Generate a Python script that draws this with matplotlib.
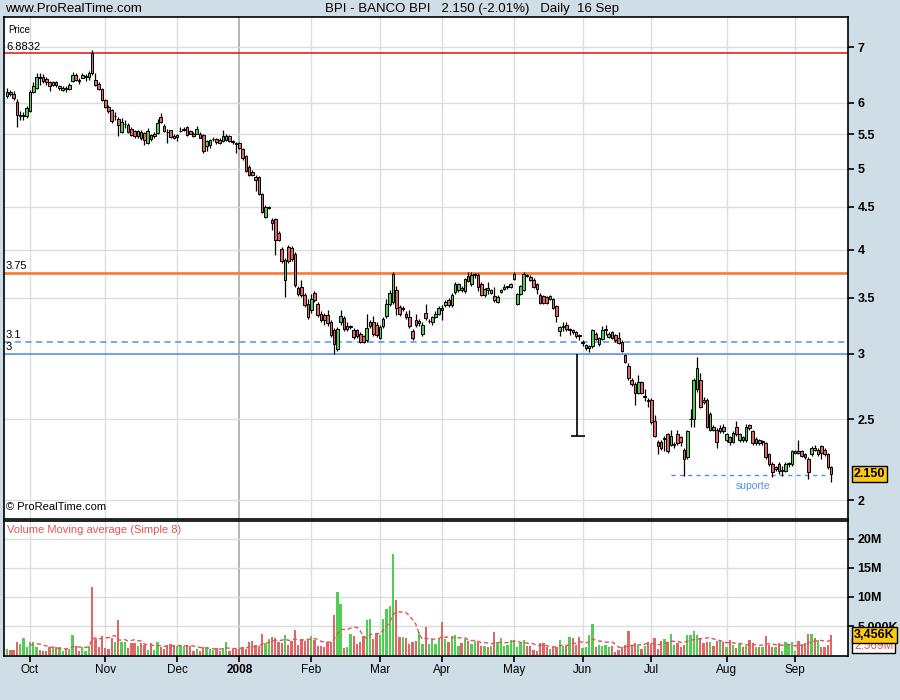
import numpy as np
import pandas as pd
import matplotlib
matplotlib.use('Agg')
import matplotlib.pyplot as plt
import matplotlib.transforms as mtrans

# ---------------- data ----------------
opens = [6.12,6.19,6.15,6.02,5.78,5.79,5.78,5.86,6.18,6.26,
         6.44,6.44,6.41,6.36,6.30,6.36,6.25,6.22,6.25,6.24,
         6.38,6.48,6.40,6.43,6.45,6.44,6.88,6.39,6.32,6.24,
         6.05,5.94,5.88,5.78,5.74,5.54,5.66,5.64,5.59,5.55,
         5.47,5.54,5.52,5.37,5.49,5.47,5.52,5.77,5.63,5.54,
         5.56,5.48,5.46,5.55,5.57,5.61,5.55,5.51,5.51,5.51,
         5.49,5.32,5.34,5.43,5.43,5.42,5.40,5.42,5.47,5.40,
         5.37,5.37,5.28,5.18,5.03,4.96,4.89,4.89,4.66,4.38,
         4.49,4.34,4.35,4.19,4.01,3.68,4.03,4.02,3.95,3.60,
         3.61,3.53,3.44,3.38,3.55,3.44,3.35,3.34,3.34,3.27,
         3.20,3.04,3.27,3.31,3.21,3.23,3.20,3.20,3.17,3.15,
         3.11,3.24,3.27,3.25,3.13,3.24,3.33,3.44,3.46,3.58,
         3.41,3.39,3.35,3.32,3.19,3.29,3.26,3.17,3.36,3.28,
         3.27,3.32,3.35,3.40,3.43,3.48,3.43,3.56,3.58,3.60,
         3.57,3.72,3.64,3.73,3.73,3.64,3.53,3.60,3.55,3.52,
         3.46,3.56,3.59,3.61,3.61,3.69,3.44,3.54,3.58,3.73,
         3.71,3.68,3.64,3.53,3.52,3.51,3.49,3.49,3.42,3.19,
         3.23,3.25,3.20,3.20,3.18,3.16,3.09,3.05,3.05,3.06,
         3.17,3.08,3.12,3.20,3.14,3.18,3.16,3.13,3.10,2.99,
         2.90,2.79,2.76,2.69,2.77,2.66,2.64,2.64,2.49,2.35,
         2.35,2.37,2.40,2.33,2.33,2.40,2.38,2.30,2.25,2.50,
         2.50,2.72,2.79,2.64,2.64,2.43,2.45,2.43,2.42,2.45,
         2.36,2.38,2.35,2.45,2.36,2.38,2.36,2.46,2.42,2.34,
         2.36,2.35,2.34,2.27,2.21,2.18,2.21,2.17,2.17,2.21,
         2.21,2.28,2.29,2.29,2.27,2.24,2.27,2.31,2.27,2.32,
         2.30,2.27,2.19]
highs = [6.26,6.22,6.20,6.06,5.86,5.85,5.95,6.21,6.36,6.52,
         6.52,6.50,6.44,6.38,6.38,6.37,6.31,6.28,6.28,6.34,
         6.54,6.52,6.42,6.51,6.50,6.55,6.95,6.51,6.35,6.26,
         6.07,5.96,5.90,5.85,5.77,5.76,5.72,5.67,5.62,5.57,
         5.57,5.56,5.54,5.60,5.51,5.53,5.74,5.84,5.66,5.58,
         5.57,5.50,5.51,5.61,5.62,5.63,5.57,5.53,5.63,5.53,
         5.50,5.42,5.43,5.46,5.45,5.44,5.56,5.51,5.49,5.42,
         5.39,5.38,5.30,5.20,5.05,4.98,4.91,4.90,4.68,4.52,
         4.51,4.36,4.37,4.21,4.03,3.91,4.05,4.04,3.97,3.62,
         3.68,3.55,3.49,3.54,3.57,3.46,3.37,3.36,3.38,3.29,
         3.22,3.23,3.38,3.33,3.27,3.25,3.22,3.21,3.18,3.16,
         3.35,3.29,3.33,3.27,3.25,3.32,3.49,3.58,3.76,3.62,
         3.43,3.42,3.37,3.38,3.21,3.35,3.30,3.27,3.44,3.30,
         3.33,3.37,3.42,3.43,3.48,3.50,3.55,3.66,3.65,3.62,
         3.70,3.76,3.76,3.75,3.75,3.66,3.60,3.66,3.59,3.61,
         3.53,3.59,3.64,3.62,3.65,3.76,3.55,3.63,3.76,3.74,
         3.73,3.70,3.65,3.55,3.53,3.52,3.53,3.50,3.43,3.24,
         3.27,3.27,3.22,3.21,3.19,3.17,3.11,3.08,3.07,3.21,
         3.18,3.14,3.24,3.25,3.18,3.19,3.17,3.18,3.11,3.00,
         2.92,2.80,2.77,2.83,2.78,2.72,2.65,2.65,2.53,2.36,
         2.36,2.39,2.41,2.43,2.35,2.43,2.39,2.31,2.43,2.57,
         2.80,2.97,2.84,2.66,2.65,2.55,2.46,2.44,2.46,2.47,
         2.41,2.39,2.42,2.49,2.41,2.39,2.47,2.47,2.43,2.38,
         2.37,2.36,2.35,2.28,2.22,2.20,2.22,2.20,2.22,2.22,
         2.30,2.30,2.36,2.30,2.28,2.25,2.32,2.33,2.31,2.33,
         2.31,2.28,2.20]
lows = [6.08,6.12,6.05,5.62,5.72,5.72,5.76,5.85,6.16,6.24,
        6.30,6.34,6.30,6.20,6.28,6.27,6.22,6.20,6.19,6.21,
        6.36,6.38,6.32,6.42,6.38,6.40,6.49,6.28,6.21,6.03,
        5.91,5.84,5.68,5.73,5.48,5.52,5.60,5.52,5.47,5.45,
        5.45,5.42,5.34,5.35,5.40,5.45,5.50,5.67,5.53,5.37,
        5.44,5.43,5.40,5.54,5.55,5.48,5.50,5.46,5.50,5.44,
        5.23,5.25,5.30,5.40,5.36,5.35,5.38,5.40,5.38,5.36,
        5.22,5.28,5.13,4.95,4.90,4.90,4.70,4.65,4.42,4.36,
        4.47,4.22,3.94,4.09,3.85,3.51,3.85,3.88,3.61,3.52,
        3.51,3.41,3.30,3.36,3.46,3.32,3.27,3.25,3.24,3.14,
        3.00,3.02,3.25,3.19,3.19,3.21,3.12,3.13,3.09,3.09,
        3.10,3.22,3.15,3.14,3.12,3.22,3.31,3.42,3.44,3.34,
        3.33,3.37,3.30,3.22,3.11,3.23,3.24,3.15,3.29,3.26,
        3.25,3.31,3.34,3.29,3.41,3.41,3.41,3.54,3.56,3.56,
        3.55,3.66,3.62,3.70,3.57,3.52,3.51,3.54,3.54,3.46,
        3.45,3.55,3.58,3.59,3.60,3.68,3.43,3.53,3.57,3.71,
        3.67,3.60,3.54,3.44,3.44,3.44,3.48,3.39,3.27,3.15,
        3.19,3.19,3.16,3.17,3.13,3.11,3.06,3.03,3.01,3.05,
        3.11,3.06,3.11,3.16,3.13,3.12,3.10,3.08,3.01,2.92,
        2.79,2.74,2.60,2.68,2.68,2.63,2.59,2.47,2.38,2.27,
        2.30,2.29,2.28,2.32,2.31,2.33,2.32,2.14,2.24,2.45,
        2.45,2.70,2.58,2.61,2.44,2.42,2.42,2.31,2.41,2.41,
        2.35,2.33,2.34,2.39,2.35,2.35,2.35,2.43,2.33,2.33,
        2.33,2.33,2.24,2.20,2.13,2.17,2.15,2.14,2.16,2.19,
        2.20,2.27,2.27,2.25,2.24,2.12,2.26,2.29,2.26,2.24,
        2.26,2.18,2.10]
closes = [6.19,6.15,6.08,5.80,5.80,5.81,5.92,6.18,6.28,6.44,
          6.43,6.38,6.35,6.29,6.36,6.31,6.28,6.26,6.24,6.31,
          6.48,6.40,6.37,6.48,6.45,6.51,6.51,6.30,6.23,6.05,
          5.94,5.87,5.70,5.79,5.65,5.69,5.66,5.54,5.49,5.47,
          5.55,5.45,5.41,5.55,5.43,5.50,5.68,5.69,5.55,5.53,
          5.46,5.45,5.49,5.55,5.57,5.49,5.51,5.47,5.58,5.45,
          5.25,5.40,5.41,5.43,5.38,5.37,5.47,5.47,5.40,5.38,
          5.35,5.30,5.15,4.97,4.92,4.92,4.85,4.67,4.44,4.50,
          4.49,4.30,4.11,4.11,3.87,3.89,3.87,3.90,3.63,3.54,
          3.53,3.43,3.32,3.49,3.48,3.34,3.29,3.29,3.26,3.16,
          3.08,3.21,3.33,3.21,3.24,3.23,3.14,3.15,3.10,3.10,
          3.22,3.27,3.17,3.16,3.23,3.30,3.44,3.55,3.74,3.40,
          3.35,3.40,3.32,3.24,3.13,3.25,3.28,3.25,3.31,3.28,
          3.32,3.35,3.40,3.38,3.46,3.43,3.53,3.64,3.64,3.58,
          3.69,3.67,3.73,3.73,3.61,3.53,3.59,3.58,3.58,3.48,
          3.51,3.58,3.61,3.61,3.64,3.74,3.54,3.62,3.74,3.72,
          3.68,3.61,3.59,3.45,3.45,3.45,3.52,3.40,3.33,3.23,
          3.23,3.21,3.20,3.18,3.15,3.15,3.09,3.07,3.06,3.20,
          3.12,3.13,3.20,3.20,3.17,3.13,3.11,3.09,3.02,2.93,
          2.80,2.76,2.69,2.77,2.69,2.66,2.63,2.48,2.39,2.32,
          2.31,2.37,2.29,2.39,2.33,2.34,2.35,2.24,2.42,2.50,
          2.79,2.88,2.59,2.62,2.45,2.54,2.43,2.35,2.44,2.42,
          2.40,2.35,2.41,2.40,2.40,2.36,2.45,2.44,2.34,2.37,
          2.34,2.35,2.25,2.21,2.16,2.19,2.17,2.17,2.21,2.21,
          2.29,2.29,2.28,2.26,2.25,2.16,2.31,2.30,2.30,2.28,
          2.27,2.194,2.15]
volumes_m = [1.1,0.9,0.9,2.2,1.9,3.0,1.4,2.2,2.2,1.4,
             0.9,0.7,0.7,1.4,1.3,1.3,1.3,0.7,1.1,1.0,
             3.4,1.5,0.7,1.3,0.7,1.6,11.8,2.8,1.3,3.3,
             1.2,1.1,3.0,2.2,6.0,2.3,2.3,1.2,2.0,2.1,
             1.5,2.1,1.7,0.9,2.0,0.9,2.2,1.4,1.0,1.7,
             1.9,1.8,1.6,1.6,1.6,1.6,1.6,0.7,1.0,0.7,
             1.3,1.3,1.1,0.9,1.2,0.7,1.2,2.2,0.7,1.0,
             1.1,1.1,1.4,1.1,2.2,2.4,1.7,1.6,3.6,2.0,
             2.8,3.1,3.0,2.2,2.0,3.4,1.7,2.5,4.3,1.7,
             2.8,2.5,2.8,3.3,2.6,1.5,1.5,1.4,2.2,2.2,
             6.9,10.9,8.8,1.2,1.3,3.7,3.3,1.9,2.2,3.2,
             6.1,6.2,2.8,3.7,3.4,6.2,7.9,8.4,17.4,9.5,
             3.1,3.1,2.9,1.9,2.2,2.4,4.0,1.9,4.9,1.9,
             2.7,1.9,2.7,5.7,2.8,2.2,3.3,3.4,1.6,2.1,
             2.8,2.5,1.9,2.5,2.2,1.6,1.6,1.4,1.6,4.0,
             2.2,3.0,1.6,1.7,2.6,2.6,1.4,2.1,2.6,1.6,
             1.6,0.9,0.7,2.1,2.1,1.4,1.0,1.4,1.4,2.6,
             1.6,1.6,3.1,2.9,1.8,3.1,1.2,1.3,3.5,5.3,
             1.3,1.7,1.6,1.7,1.3,1.6,0.6,0.9,1.3,1.7,
             4.1,1.6,2.0,1.6,1.1,1.6,2.2,1.9,2.9,1.1,
             2.5,2.7,2.3,3.6,1.8,2.1,1.3,1.8,3.4,3.4,
             4.1,3.5,3.0,2.0,2.3,2.3,1.6,2.5,2.6,2.2,
             1.4,2.6,1.7,1.2,1.9,1.4,1.6,2.6,2.0,1.4,
             1.4,1.4,3.3,1.8,1.4,1.4,2.0,0.7,2.2,1.9,
             2.2,0.7,2.4,1.7,2.0,3.6,3.6,3.0,2.6,1.3,
             1.3,1.7,3.456]

month_labels = ['Oct', 'Nov', 'Dec', '2008', 'Feb', 'Mar', 'Apr',
                'May', 'Jun', 'Jul', 'Aug', 'Sep']
price_ticks = [2, 2.5, 3, 3.5, 4, 4.5, 5, 5.5, 6, 7]
vol_ticks = [5, 10, 15, 20]
vol_tick_labels = ['5.000K', '10M', '15M', '20M']
holidays = ['2007-12-25', '2007-12-26', '2008-01-01',
            '2008-03-21', '2008-03-24', '2008-05-01']
level_high = 6.8832
level_res = 3.75
level_dash = 3.1
level_sup3 = 3.0
support_level = 2.143
support_from = '2008-07-09'
support_to = '2008-09-12'
spike_date = '2008-05-30'
spike_top = 3.0
spike_low = 2.39
last_close = 2.150

# ---------------- setup ----------------
dates = pd.bdate_range('2007-09-20', '2008-09-16')
dates = dates[~dates.isin(pd.to_datetime(holidays))]
n = len(closes)
dates = dates[:n]
x = np.arange(n)

o = np.array(opens); h = np.array(highs); l = np.array(lows); c = np.array(closes)
v = np.array(volumes_m)

BG = '#cfdde6'
GREEN = '#52cc52'
RED = '#e06565'
GRID = '#dcdcdc'

plt.rcParams['font.family'] = ['Liberation Sans', 'DejaVu Sans']

fig = plt.figure(figsize=(9, 7), dpi=100, facecolor=BG)
W, H = 900.0, 700.0
L, R = 4, 848
axp = fig.add_axes([L / W, 1 - 519 / H, (R - L) / W, (519 - 17) / H])
axv = fig.add_axes([L / W, 1 - 656 / H, (R - L) / W, (656 - 521) / H])

px_per_day = 3.27
x0_px = 7.1
xlim = ((L - x0_px) / px_per_day, (R - x0_px) / px_per_day)

# month positions
month_pos = []
prev = None
for i, d in enumerate(dates):
    if d.month != prev:
        if prev is not None:
            month_pos.append(i)
        prev = d.month
month_pos = month_pos[:len(month_labels)]

for ax in (axp, axv):
    ax.set_facecolor('white')
    ax.set_xlim(*xlim)
    for mp, lab in zip(month_pos, month_labels):
        ax.axvline(mp, color='#a8a8a8' if lab == '2008' else GRID, lw=1.2 if lab == '2008' else 1.0, zorder=0)
    for s in ax.spines.values():
        s.set_color('black'); s.set_linewidth(1.2)

# ---------------- price panel ----------------
axp.set_yscale('log')
axp.set_ylim(1.898, 7.61)
for t in price_ticks:
    axp.axhline(t, color=GRID, lw=1.0, zorder=0)

up = c >= o
colors = np.where(up, GREEN, RED)
axp.vlines(x, l, h, color='black', lw=0.9, zorder=2)
body_lo = np.minimum(o, c)
body_h = np.maximum(np.abs(c - o), 0.006)
axp.bar(x, body_h, bottom=body_lo, width=0.8, color=colors,
        edgecolor='black', linewidth=0.7, zorder=3)

# horizontal levels
axp.axhline(level_high, color='#e01010', lw=1.1, zorder=1)
axp.axhline(level_res, color='#f5803e', lw=2.0, zorder=1)
axp.axhline(level_dash, color='#4f8ff5', lw=1.1, ls=(0, (4, 3)), zorder=1)
axp.axhline(level_sup3, color='#5b96f5', lw=1.2, zorder=1)
tx = xlim[0] + 0.6
for val, lab in [(level_high, '6.8832'), (level_res, '3.75'), (level_dash, '3.1'), (level_sup3, '3')]:
    axp.text(tx, val * 1.004, lab, fontsize=8, va='bottom', ha='left', color='black', zorder=5)

# support line
sf = dates.get_loc(pd.Timestamp(support_from))
st = dates.get_loc(pd.Timestamp(support_to))
axp.hlines(support_level, sf, st, colors='#4f8ff5', lw=1.0, linestyles=(0, (3, 3)), zorder=1)
axp.text((sf + st) / 2 + 1.5, support_level * 0.97, 'suporte', color='#4f8ff5', fontsize=7.5,
         ha='center', va='center')

# spike
sp = dates.get_loc(pd.Timestamp(spike_date)) - 0.8
axp.vlines(sp, spike_low, spike_top, color='black', lw=1.2, zorder=2)
axp.hlines(spike_low, sp - 1.9, sp + 2.4, color='black', lw=1.2, zorder=2)

axp.yaxis.tick_right()
axp.set_yticks(price_ticks)
axp.set_yticklabels([('%g' % t) for t in price_ticks], fontsize=9, fontweight='bold')
axp.yaxis.set_minor_locator(matplotlib.ticker.NullLocator())
axp.tick_params(axis='y', direction='out', length=4, width=1.2, pad=3, right=True, left=False)
axp.set_xticks([])

axp.text(4 / (R - L), 1 - 8 / 502, 'Price', transform=axp.transAxes, fontsize=7,
         va='top', ha='left')
axp.text(2 / (R - L), 7 / 502, '\u00a9 ProRealTime.com', transform=axp.transAxes,
         fontsize=8, va='bottom', ha='left')

# price label
trp = mtrans.blended_transform_factory(axp.transAxes, axp.transData)
axp.text(1.0 + 6 / (R - L), last_close, '%.3f' % last_close, transform=trp,
         fontsize=9, fontweight='bold', va='center', ha='left', zorder=10, clip_on=False,
         bbox=dict(boxstyle='square,pad=0.15', facecolor='#ffc90e', edgecolor='black', lw=1))

# ---------------- volume panel ----------------
axv.set_ylim(-0.17, 23.1)
for t in vol_ticks:
    axv.axhline(t, color=GRID, lw=1.0, zorder=0)
axv.bar(x, v, width=0.7, color=colors, linewidth=0, zorder=2)
ma = pd.Series(v).rolling(8).mean()
axv.plot(x, ma, color='#e05555', lw=1.0, ls=(0, (3, 2)), zorder=3)

axv.yaxis.tick_right()
axv.set_yticks(vol_ticks)
axv.set_yticklabels(vol_tick_labels, fontsize=9, fontweight='bold')
axv.tick_params(axis='y', direction='out', length=4, width=1.2, pad=3, right=True, left=False)
axv.set_xticks(month_pos)
axv.set_xticklabels(month_labels, fontsize=8.5)
for lab in axv.get_xticklabels():
    if lab.get_text() == '2008':
        lab.set_fontweight('bold')
axv.tick_params(axis='x', direction='out', length=4, width=1.2, pad=2)

axv.text(3 / (R - L), 1 - 4 / 135, 'Volume Moving average (Simple 8)', transform=axv.transAxes,
         fontsize=8, color='#e05555', va='top', ha='left')

trv = mtrans.blended_transform_factory(axv.transAxes, axv.transData)
axv.text(1.0 + 6 / (R - L), ma.iloc[-1] - 0.9, '%s' % ('{:,.3f}M'.format(ma.iloc[-1]).replace('.', ',')),
         transform=trv, fontsize=8.5, color='#e05555', va='center', ha='left', zorder=9, clip_on=False,
         bbox=dict(boxstyle='square,pad=0.15', facecolor='white', edgecolor='black', lw=1))
axv.text(1.0 + 6 / (R - L), v[-1], '{:,}K'.format(int(round(v[-1] * 1000))),
         transform=trv, fontsize=9, fontweight='bold', va='center', ha='left', zorder=10, clip_on=False,
         bbox=dict(boxstyle='square,pad=0.15', facecolor='#ffc90e', edgecolor='black', lw=1))

# ---------------- header ----------------
hdr_font = ['Liberation Sans Narrow', 'Liberation Sans', 'DejaVu Sans']
fig.text(5 / W, 1 - 9 / H, 'www.ProRealTime.com', fontsize=9.5, family=hdr_font,
         va='center', ha='left')
fig.text(472 / W, 1 - 9 / H, 'BPI - BANCO BPI   2.150 (-2.01%)   Daily  16 Sep',
         fontsize=9.5, family=hdr_font, va='center', ha='center')

fig.savefig('out.png', dpi=100, facecolor=BG)
